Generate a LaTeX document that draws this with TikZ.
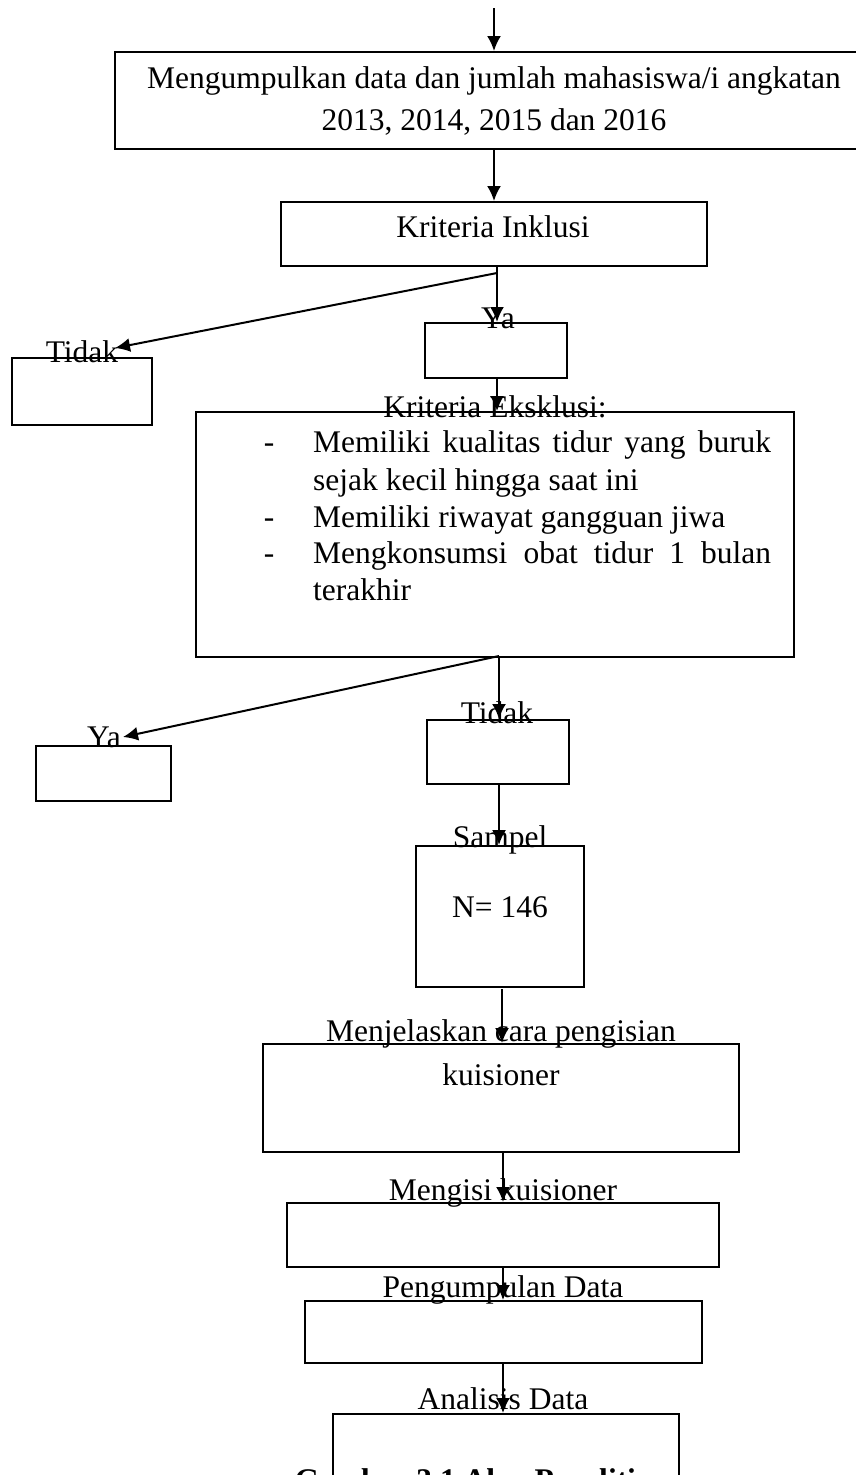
\documentclass[tikz,border=0pt]{standalone}
\usepackage{fontspec}
\setmainfont{Liberation Serif}
\usetikzlibrary{arrows.meta}
\begin{document}
\begin{tikzpicture}[x=1pt,y=-1pt,
  box/.style={draw,line width=1.5pt,inner sep=0pt,anchor=north west},
  lbl/.style={inner sep=0pt,anchor=base},
  arr/.style={line width=2pt,-{Latex[length=15pt,width=14pt]}},
  font=\fontsize{31.5}{42}\selectfont]
\useasboundingbox[fill=white] (0,0) rectangle (856,1475);

% boxes
\node[box,minimum width=760pt,minimum height=97pt] (b1) at (114,51) {};
\node[box,minimum width=426pt,minimum height=64pt] (b2) at (280,201) {};
\node[box,minimum width=140pt,minimum height=67pt] (tidak1) at (11,357) {};
\node[box,minimum width=142pt,minimum height=55pt] (ya1) at (424,322) {};
\node[box,minimum width=598pt,minimum height=245pt] (eks) at (195,411) {};
\node[box,minimum width=135pt,minimum height=55pt] (ya2) at (35,745) {};
\node[box,minimum width=142pt,minimum height=64pt] (tidak2) at (426,719) {};
\node[box,minimum width=168pt,minimum height=141pt] (sampel) at (415,845) {};
\node[box,minimum width=476pt,minimum height=108pt] (jelas) at (262,1043) {};
\node[box,minimum width=432pt,minimum height=64pt] (isi) at (286,1202) {};
\node[box,minimum width=397pt,minimum height=62pt] (kumpul) at (304,1300) {};
\node[box,minimum width=346pt,minimum height=120pt] (analisis) at (332,1413) {};

% texts
\node[lbl] (t1a) at (494,88) {Mengumpulkan data dan jumlah mahasiswa/i angkatan};
\node[lbl] (t1b) at (494,130) {2013, 2014, 2015 dan 2016};
\node[lbl] (t2) at (493,237) {Kriteria Inklusi};
\node[lbl] (ltidak1) at (82,362) {Tidak};
\node[lbl] (lya1) at (498,328) {Ya};
\node[lbl] (leks) at (495,417) {Kriteria Eksklusi:};
\node[lbl] (d1) at (269,452) {-};
\node[lbl] (d2) at (269,527) {-};
\node[lbl] (d3) at (269,563) {-};
\node[inner sep=0pt,anchor=base west] (e1) at (313,452) {\makebox[458pt][s]{Memiliki kualitas tidur yang buruk}};
\node[inner sep=0pt,anchor=base west] (e2) at (313,490) {sejak kecil hingga saat ini};
\node[inner sep=0pt,anchor=base west] (e3) at (313,527) {Memiliki riwayat gangguan jiwa};
\node[inner sep=0pt,anchor=base west] (e4) at (313,563) {\makebox[458pt][s]{Mengkonsumsi obat tidur 1 bulan}};
\node[inner sep=0pt,anchor=base west] (e5) at (313,600) {terakhir};
\node[lbl] (lya2) at (104,747) {Ya};
\node[lbl] (ltidak2) at (497,723) {Tidak};
\node[lbl] (lsampel) at (500,847) {Sampel};
\node[lbl] (ln) at (500,917) {N= 146};
\node[lbl] (ljelas1) at (501,1041) {Menjelaskan cara pengisian};
\node[lbl] (ljelas2) at (501,1085) {kuisioner};
\node[lbl] (lisi) at (503,1200) {Mengisi kuisioner};
\node[lbl] (lkumpul) at (503,1297) {Pengumpulan Data};
\node[lbl] (lanalisis) at (503,1409) {Analisis Data};
\node[lbl,font=\fontsize{31.5}{42}\selectfont\bfseries] (cap) at (482,1490) {Gambar 3.1 Alur Penelitian};

% connectors
\coordinate (start) at (494,8);
\coordinate (br1) at (497,273);
\coordinate (tip1) at (115,348);
\coordinate (br2) at (499,656);
\coordinate (tip2) at (123,737);

\draw[arr] (start) -- (b1.north -| start);
\draw[arr] (b1.south -| start) -- (b2.north -| start);
\draw[line width=2pt] (b2.south -| br1) -- (br1);
\draw[arr] (br1) -- (tip1);
\draw[arr] (br1) -- (ya1.north -| br1);
\draw[arr] (ya1.south -| br1) -- (eks.north -| br1);
\draw[arr] (br2) -- (tip2);
\draw[arr] (br2) -- (tidak2.north -| br2);
\draw[arr] (tidak2.south -| br2) -- (sampel.north -| br2);
\coordinate (c3) at (502,989);
\draw[arr] (c3) -- (jelas.north -| c3);
\coordinate (c4) at (503,1151);
\draw[arr] (jelas.south -| c4) -- (isi.north -| c4);
\draw[arr] (isi.south -| c4) -- (kumpul.north -| c4);
\draw[arr] (kumpul.south -| c4) -- (analisis.north -| c4);
\end{tikzpicture}
\end{document}
